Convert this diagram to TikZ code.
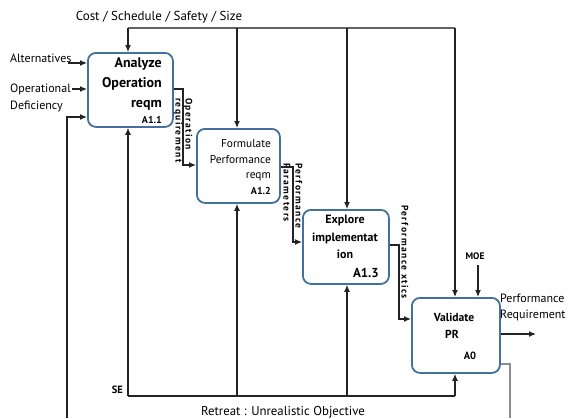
\documentclass[tikz,border=0pt]{standalone}
\usepackage{fontspec}
\setmainfont{PT Sans}
\usetikzlibrary{arrows.meta}
\definecolor{boxblue}{RGB}{65,113,156}
\definecolor{wirec}{RGB}{35,35,35}
\definecolor{lightwire}{RGB}{140,140,140}
\begin{document}
\begin{tikzpicture}[x=1pt,y=-1pt,
  box/.style={draw=boxblue,line width=1.8pt,rounded corners=8pt,fill=white,inner sep=0pt,anchor=north west},
  wire/.style={draw=wirec,line width=1.2pt},
  arr/.style={wire,-{Latex[length=7pt,width=6pt]}},
  txt/.style={inner sep=0pt,font=\fontsize{12}{14}\selectfont},
  bt/.style={inner sep=0pt,font=\fontsize{14}{16}\selectfont\bfseries},
  mt/.style={inner sep=0pt,font=\fontsize{11.4}{14}\selectfont},
  et/.style={inner sep=0pt,font=\fontsize{12}{14}\selectfont\bfseries},
  idt/.style={inner sep=0pt,font=\fontsize{10}{12}\selectfont\bfseries},
  rlab/.style={inner sep=0pt,rotate=-90,anchor=west,font=\fontsize{9.5}{12}\selectfont\bfseries\addfontfeatures{LetterSpace=15}}
]
\useasboundingbox (0,0) rectangle (569,418);

% boxes
\node[box,minimum width=85pt,minimum height=74pt] (A11) at (87,52) {};
\node[box,minimum width=83pt,minimum height=74pt] (A12) at (196,128) {};
\node[box,minimum width=86pt,minimum height=74pt] (A13) at (302,209) {};
\node[box,minimum width=88pt,minimum height=75pt] (A0) at (411,297) {};

% box texts
\node[bt,anchor=base east] (t11a) at (162,67) {Analyze};
\node[bt,anchor=base east] (t11b) at (162,87) {Operation};
\node[bt,anchor=base east] (t11c) at (162,107) {reqm};
\node[idt,anchor=base east] (t11d) at (162,123) {A1.1};

\node[mt,anchor=base east] (t12a) at (271,147) {Formulate};
\node[mt,anchor=base east] (t12b) at (271,163) {Performance};
\node[mt,anchor=base east] (t12c) at (271,178) {reqm};
\node[idt,anchor=base east] (t12d) at (271,194) {A1.2};

\node[et,anchor=base] (t13a) at (345,223) {Explore};
\node[et,anchor=base] (t13b) at (345,241) {implementat};
\node[et,anchor=base] (t13c) at (345,258) {ion};
\node[et,anchor=base east,font=\fontsize{13}{15}\selectfont\bfseries] (t13d) at (379,277) {A1.3};

\node[et,anchor=base,font=\fontsize{11.6}{14}\selectfont\bfseries] (t0a) at (454,321) {Validate};
\node[et,anchor=base,font=\fontsize{11.6}{14}\selectfont\bfseries] (t0b) at (452,338) {PR};
\node[idt,anchor=base,font=\fontsize{10.5}{12}\selectfont\bfseries] (t0c) at (470,359) {A0};

% outside labels
\node[txt,anchor=base,font=\fontsize{13}{15}\selectfont] (cost) at (159,20) {Cost / Schedule / Safety / Size};
\node[txt,anchor=base west] (alt) at (10,62) {Alternatives};
\node[txt,anchor=base west] (opd1) at (10,92) {Operational};
\node[txt,anchor=base west] (opd2) at (10,109) {Deficiency};
\node[txt,anchor=base,font=\fontsize{9.5}{12}\selectfont\bfseries] (moet) at (475,259) {MOE};
\node[txt,anchor=base west] (pr1) at (500,302) {Performance};
\node[txt,anchor=base west] (pr2) at (500,318) {Requirement};
\node[txt,anchor=base east,font=\fontsize{10.5}{12}\selectfont\bfseries] (se) at (123,393) {SE};
\node[txt,anchor=base,font=\fontsize{12.8}{15}\selectfont] (retreat) at (283,415) {Retreat : Unrealistic Objective};

% rotated labels
\node[rlab] (l1a) at (188,98) {Operation};
\node[rlab] (l1b) at (178,98) {requirement};
\node[rlab] (l2a) at (299,163) {Performance};
\node[rlab] (l2b) at (287,163) {Parameters};
\node[rlab] (l3a) at (405,205) {Performance xtics};

% coordinates
\coordinate (c1) at (128,28);
\coordinate (c2) at (237,28);
\coordinate (c3) at (347,28);
\coordinate (c4) at (455,28);
\coordinate (moe) at (478,265);
\coordinate (in1) at (68,63);
\coordinate (in2) at (72,89);
\coordinate (in3) at (67,117);
\coordinate (fbL) at (67,418);
\coordinate (o1a) at (183,89);
\coordinate (o1b) at (183,165);
\coordinate (o2a) at (293,167);
\coordinate (o2b) at (293,242);
\coordinate (o3a) at (399,245);
\coordinate (o3b) at (399,319);
\coordinate (out) at (536,334);
\coordinate (fbR) at (510,364);
\coordinate (fbRb) at (510,418);
\coordinate (m1) at (128,396);
\coordinate (m2) at (237,396);
\coordinate (m3) at (347,396);
\coordinate (m4) at (455,396);

% controls
\draw[wire,draw=lightwire!70!black] (c1) -- (c4);
\draw[arr] (c1) -- (c1 |- A11.north);
\draw[arr] (c2) -- (c2 |- A12.north);
\draw[arr] (c3) -- (c3 |- A13.north);
\draw[arr] (c4) -- (c4 |- A0.north);
\draw[arr] (moe) -- (moe |- A0.north);

% inputs
\draw[arr] (in1) -- (in1 -| A11.west);
\draw[arr] (in2) -- (in2 -| A11.west);
\draw[arr] (fbL) -- (in3) -- (in3 -| A11.west);

% flows between boxes
\draw[arr] (o1a -| A11.east) -- (o1a) -- (o1b) -- (o1b -| A12.west);
\draw[arr] (o2a -| A12.east) -- (o2a) -- (o2b) -- (o2b -| A13.west);
\draw[arr] (o3a -| A13.east) -- (o3a) -- (o3b) -- (o3b -| A0.west);

% output
\draw[arr] (out -| A0.east) -- (out);
\draw[wire,draw=lightwire] (fbR -| A0.east) -- (fbR) -- (fbRb);

% mechanisms
\draw[wire] (m1) -- (m4);
\draw[arr] (m1) -- (m1 |- A11.south);
\draw[arr] (m2) -- (m2 |- A12.south);
\draw[arr] (m3) -- (m3 |- A13.south);
\draw[arr] (m4) -- (m4 |- A0.south);
\end{tikzpicture}
\end{document}
